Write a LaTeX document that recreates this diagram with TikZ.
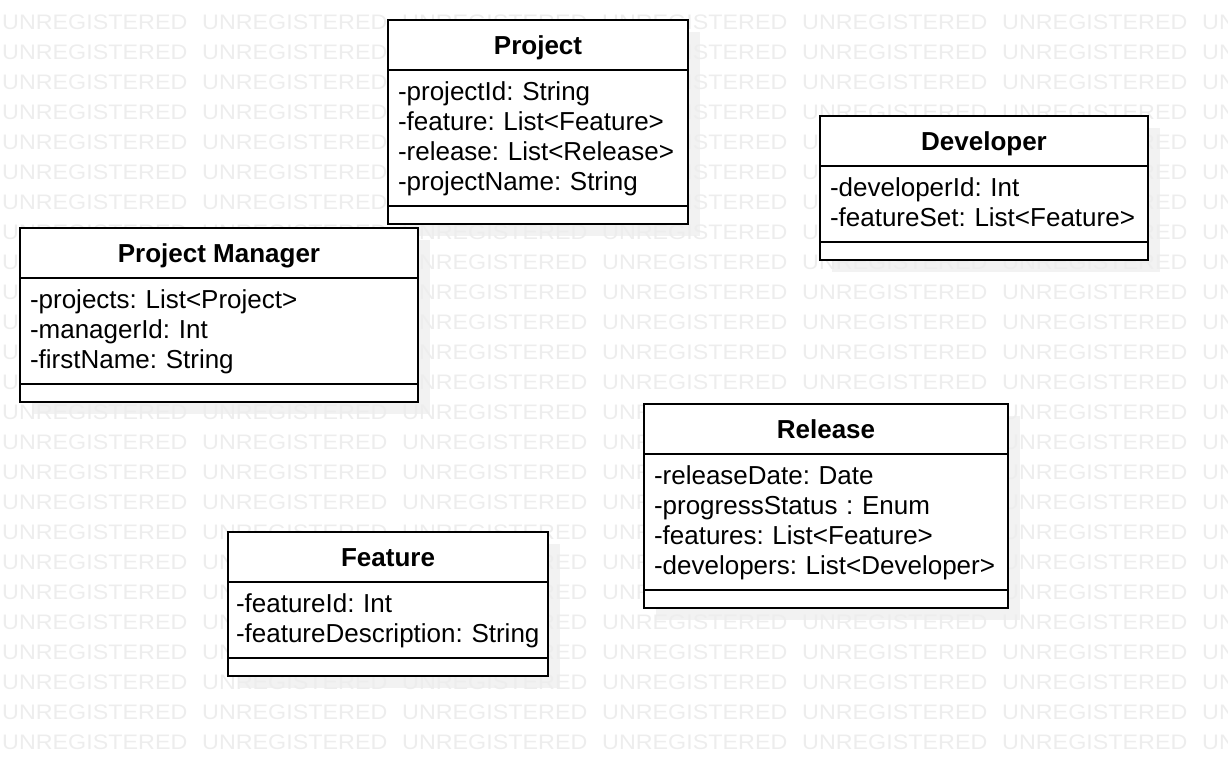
\documentclass[tikz,border=0pt]{standalone}
\usepackage{fontspec}
\setmainfont{Liberation Sans}
\usetikzlibrary{positioning,backgrounds}

\begin{document}
\begin{tikzpicture}[x=1pt, y=-1pt,
  clase/.style={draw=black, line width=2pt, fill=white, outer sep=0pt, inner sep=0pt},
  titulo/.style={clase, minimum height=50pt, font=\fontsize{26}{30}\selectfont\bfseries,
                 text height=18.6pt, text depth=0pt},
  atributos/.style={clase, align=left, font=\fontsize{26}{30}\selectfont\frenchspacing, inner xsep=10pt, inner ysep=7.75pt,
                    execute at begin node=\rule{0pt}{23pt}, execute at end node=\rule[-7pt]{0pt}{7pt}},
  metodos/.style={clase, minimum height=18pt},
  sombra/.style={fill=black!5},
  marca/.style={anchor=base west, inner sep=0pt, text=black!7, font=\fontsize{21}{21}\selectfont}]
  \useasboundingbox (0,0) rectangle (1228,756);
  % Project
  \node[titulo, minimum width=300pt, anchor=north west] (proj) at (388,20) {Project};
  \node[atributos, text width=280pt, below=0pt of proj] (projAtr)
    {-projectId:~String\\-feature:~List<Feature>\\-release:~List<Release>\\-projectName:~String};
  \node[metodos, minimum width=300pt, below=0pt of projAtr] (projOps) {};
  % Developer
  \node[titulo, minimum width=328pt, anchor=north west] (dev) at (820,116) {Developer};
  \node[atributos, text width=308pt, below=0pt of dev] (devAtr)
    {-developerId:~Int\\-featureSet:~List<Feature>};
  \node[metodos, minimum width=328pt, below=0pt of devAtr] (devOps) {};
  % Project Manager
  \node[titulo, minimum width=398pt, anchor=north west] (pm) at (20,228) {Project Manager};
  \node[atributos, text width=378pt, below=0pt of pm] (pmAtr)
    {-projects:~List<Project>\\-managerId:~Int\\-firstName:~String};
  \node[metodos, minimum width=398pt, below=0pt of pmAtr] (pmOps) {};
  % Release
  \node[titulo, minimum width=364pt, anchor=north west] (rel) at (644,404) {Release};
  \node[atributos, text width=344pt, below=0pt of rel] (relAtr)
    {-releaseDate:~Date\\-progressStatus~:~Enum\\-features:~List<Feature>\\-developers:~List<Developer>};
  \node[metodos, minimum width=364pt, below=0pt of relAtr] (relOps) {};
  % Feature
  \node[titulo, minimum width=320pt, anchor=north west] (feat) at (228,532) {Feature};
  \node[atributos, text width=304pt, inner xsep=8pt, below=0pt of feat] (featAtr)
    {-featureId:~Int\\-featureDescription:~String};
  \node[metodos, minimum width=320pt, below=0pt of featAtr] (featOps) {};
  % sombras y marca de agua
  \begin{scope}[on background layer]
    \clip (0,0) rectangle (1228,756);
    \foreach \c in {proj,dev,pm,rel,feat}
      \fill[sombra] ([shift={(12,12)}]\c.north west) rectangle ([shift={(12,12)}]\c Ops.south east);
    \foreach \i in {0,...,24}
      \foreach \j in {0,...,6}
        \node[marca] at (2+200*\j, 29.5+30*\i) {\scalebox{1.11}[1]{UNREGISTERED}};
  \end{scope}
\end{tikzpicture}
\end{document}
